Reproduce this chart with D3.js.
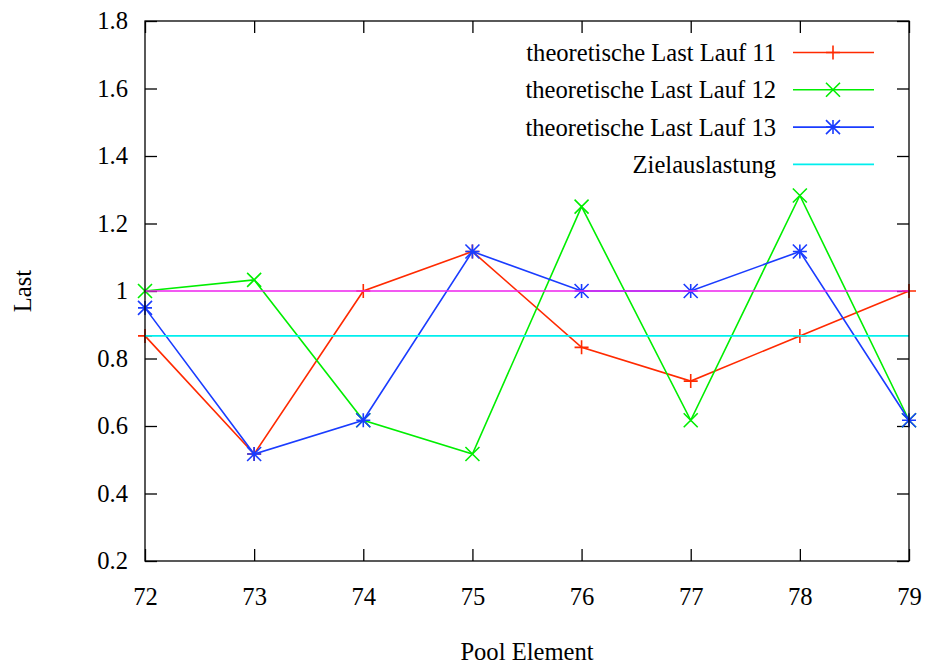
<!DOCTYPE html>
<html>
<head>
<meta charset="utf-8">
<script src="https://d3js.org/d3.v7.min.js"></script>
<style>
  body { margin: 0; background: #fff; }
  svg text { font-family: "Liberation Serif", "Times New Roman", Times, serif; font-size: 24.6px; fill: #000; }
</style>
</head>
<body>
<div id="grafico"></div>
<script>
// datos
const poolElement = [72, 73, 74, 75, 76, 77, 78, 79];
const lauf11 = [0.867, 0.517, 1.0, 1.117, 0.833, 0.733, 0.867, 1.0];
const lauf12 = [1.0, 1.033, 0.617, 0.517, 1.25, 0.617, 1.283, 0.617];
const lauf13 = [0.95, 0.517, 0.617, 1.117, 1.0, 1.0, 1.117, 0.617];
const zielauslastung = [0.867, 0.867, 0.867, 0.867, 0.867, 0.867, 0.867, 0.867];
const referenz = [1, 1, 1, 1, 1, 1, 1, 1];
const yTicks = [0.2, 0.4, 0.6, 0.8, 1, 1.2, 1.4, 1.6, 1.8];

const serien = [
  { name: "theoretische Last Lauf 11", werte: lauf11, farbe: "#ff2a00", punkt: "plus" },
  { name: "theoretische Last Lauf 12", werte: lauf12, farbe: "#00ee00", punkt: "kreuz" },
  { name: "theoretische Last Lauf 13", werte: lauf13, farbe: "#1a3cff", punkt: "stern" },
  { name: "Zielauslastung", werte: zielauslastung, farbe: "#00eeee", punkt: null },
  { name: null, werte: referenz, farbe: "#ee22ee", punkt: null }
];

const ancho = 926, alto = 668;
const margen = { left: 145, right: 17, top: 21, bottom: 107 };

const svg = d3.select("#grafico").append("svg")
  .attr("width", ancho).attr("height", alto);

const x = d3.scaleLinear().domain([72, 79]).range([margen.left, ancho - margen.right]);
const y = d3.scaleLinear().domain([0.2, 1.8]).range([alto - margen.bottom, margen.top]);

const tickLen = 12;

// ticks (gnuplot style, nach innen, gespiegelt)
svg.append("g")
  .attr("transform", "translate(0," + y(0.2) + ")")
  .call(d3.axisBottom(x).tickValues(poolElement).tickSize(-tickLen).tickPadding(27).tickFormat(d3.format("d")))
  .call(g => g.select(".domain").remove());
svg.append("g")
  .attr("transform", "translate(0," + y(1.8) + ")")
  .call(d3.axisTop(x).tickValues(poolElement).tickSize(-tickLen).tickFormat(""))
  .call(g => g.select(".domain").remove());
svg.append("g")
  .attr("transform", "translate(" + x(72) + ",0)")
  .call(d3.axisLeft(y).tickValues(yTicks).tickSize(-tickLen).tickPadding(17)
    .tickFormat(d => d === 1 ? "1" : d3.format(".1f")(d)))
  .call(g => g.select(".domain").remove());
svg.append("g")
  .attr("transform", "translate(" + x(79) + ",0)")
  .call(d3.axisRight(y).tickValues(yTicks).tickSize(-tickLen).tickFormat(""))
  .call(g => g.select(".domain").remove());

svg.selectAll(".tick line").attr("stroke", "#000").attr("stroke-width", 1.3);
svg.selectAll(".tick text").attr("font-family", null).attr("font-size", null);

// Linien
const linie = d3.line().x((d, i) => x(poolElement[i])).y(d => y(d));

function marker(g, typ, cx, cy, farbe) {
  const r = 7;
  let p = "";
  if (typ === "plus") p = `M${cx - r},${cy}H${cx + r}M${cx},${cy - r}V${cy + r}`;
  if (typ === "kreuz") p = `M${cx - r},${cy - r}L${cx + r},${cy + r}M${cx - r},${cy + r}L${cx + r},${cy - r}`;
  if (typ === "stern") p = `M${cx - r},${cy}H${cx + r}M${cx},${cy - r}V${cy + r}` +
    `M${cx - r},${cy - r}L${cx + r},${cy + r}M${cx - r},${cy + r}L${cx + r},${cy - r}`;
  if (p) g.append("path").attr("d", p).attr("stroke", farbe).attr("stroke-width", 1.6).attr("fill", "none");
}

const plot = svg.append("g");
serien.forEach(s => {
  plot.append("path")
    .attr("d", linie(s.werte))
    .attr("fill", "none")
    .attr("stroke", s.farbe)
    .attr("stroke-width", 1.6);
  if (s.punkt) s.werte.forEach((v, i) => marker(plot, s.punkt, x(poolElement[i]), y(v), s.farbe));
});

// Rahmen
svg.append("rect")
  .attr("x", x(72)).attr("y", y(1.8))
  .attr("width", x(79) - x(72)).attr("height", y(0.2) - y(1.8))
  .attr("fill", "none").attr("stroke", "#000").attr("stroke-width", 1.3);

// Legende
const leg = svg.append("g");
serien.filter(s => s.name).forEach((s, i) => {
  const ly = 52.5 + i * 37.3;
  leg.append("text").attr("x", 776).attr("y", ly).attr("dy", "0.35em")
    .attr("text-anchor", "end").text(s.name);
  leg.append("line").attr("x1", 793).attr("x2", 874).attr("y1", ly).attr("y2", ly)
    .attr("stroke", s.farbe).attr("stroke-width", 1.6);
  if (s.punkt) marker(leg, s.punkt, 833, ly, s.farbe);
});

// Achsentitel
svg.append("text")
  .attr("transform", "translate(22," + y(1) + ") rotate(-90)")
  .attr("text-anchor", "middle").attr("dy", "0.35em").text("Last");
svg.append("text")
  .attr("x", (x(72) + x(79)) / 2).attr("y", 660)
  .attr("text-anchor", "middle").text("Pool Element");
</script>
</body>
</html>
